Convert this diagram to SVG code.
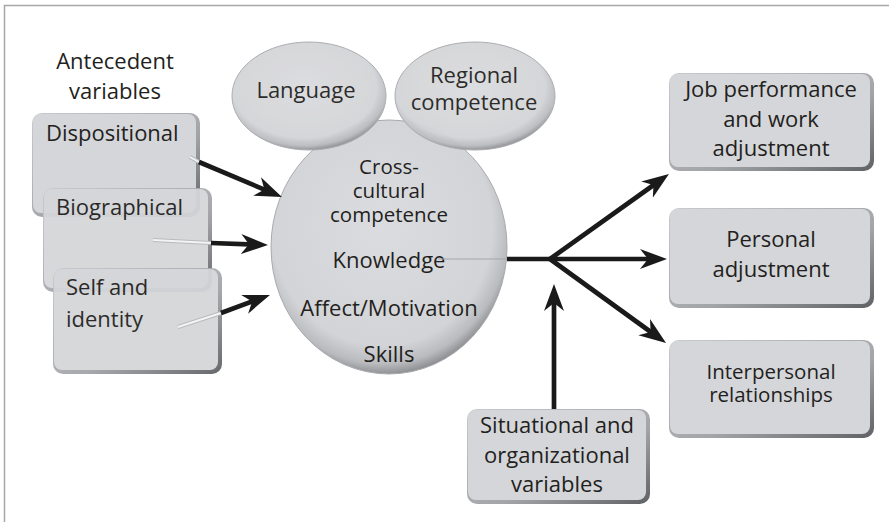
<svg xmlns="http://www.w3.org/2000/svg" width="889" height="522" viewBox="0 0 889 522">
<defs>
<style>
text{font-family:"Open Sans","Liberation Sans",sans-serif;font-size:22px;fill:#231f20;text-anchor:middle}
.tl{text-anchor:start}
.tight{font-size:20.5px}
.rim{fill:url(#rimG)}
.box{fill:#d5d6d9}
.ell{fill:url(#ellG);stroke:#a9aaad;stroke-width:1}
.conn{stroke:#1a1a1a;stroke-width:4.7;fill:none}
.arr{marker-end:url(#ah)}
.ghost{stroke:#b9babd;stroke-width:4;fill:none}
.ghost2{stroke:#f4f4f4;stroke-width:2;fill:none}
</style>
<linearGradient id="rimG" x1="0" y1="0" x2="1" y2="1">
<stop offset="0" stop-color="#c9cacd"/>
<stop offset="0.6" stop-color="#a3a4a8"/>
<stop offset="1" stop-color="#606165"/>
</linearGradient>
<radialGradient id="ellG" cx="0.47" cy="0.42" r="0.6">
<stop offset="0" stop-color="#dbdcdf"/>
<stop offset="0.78" stop-color="#d3d4d7"/>
<stop offset="0.9" stop-color="#babbbe"/>
<stop offset="1" stop-color="#7c7d81"/>
</radialGradient>
<marker id="ah" markerUnits="userSpaceOnUse" markerWidth="28" markerHeight="22" viewBox="0 0 28 22" refX="15" refY="11" orient="auto">
<path d="M0,1 L27,11 L0,21 L8,11 z" fill="#1a1a1a"/>
</marker>
</defs>
<rect width="889" height="522" fill="#ffffff"/>
<path d="M4.5,522 L4.5,5.5 L889,5.5" fill="none" stroke="#a6a6a8" stroke-width="1.5"/>

<g id="antecedent-label">
<text x="115" y="69">Antecedent</text>
<text x="115" y="99">variables</text>
</g>

<g id="dispositional">
<rect class="rim" x="32" y="113" width="168" height="104" rx="10"/>
<rect class="box" x="33" y="114" width="163" height="99" rx="8"/>
<text class="tl" x="46" y="141">Dispositional</text>
</g>
<g id="biographical" opacity="0.95">
<rect class="rim" x="43" y="188" width="169" height="104" rx="10"/>
<rect class="box" x="44" y="189" width="164" height="99" rx="8"/>
<text class="tl" x="56" y="215">Biographical</text>
</g>
<g id="self-identity" opacity="0.95">
<rect class="rim" x="53" y="268" width="169" height="106" rx="10"/>
<rect class="box" x="54" y="269" width="164" height="101" rx="8"/>
<text class="tl" x="66" y="295">Self and</text>
<text class="tl" x="66" y="327">identity</text>
</g>

<g id="cross-cultural">
<ellipse class="ell" cx="389" cy="247" rx="118" ry="127"/>
<text class="tight" x="389" y="174">Cross-</text>
<text class="tight" x="389" y="198">cultural</text>
<text class="tight" x="389" y="222">competence</text>
<text x="389" y="268">Knowledge</text>
<text x="389" y="316">Affect/Motivation</text>
<text x="389" y="362">Skills</text>
</g>
<g id="language" opacity="0.95">
<ellipse class="ell" cx="309" cy="96" rx="77" ry="54"/>
<text x="306" y="98">Language</text>
</g>
<g id="regional" opacity="0.95">
<ellipse class="ell" cx="475" cy="96" rx="80" ry="54"/>
<text x="474" y="83">Regional</text>
<text x="474" y="110">competence</text>
</g>

<g id="job-performance">
<rect class="rim" x="669" y="73" width="205" height="98" rx="10"/>
<rect class="box" x="670" y="74" width="200" height="93" rx="8"/>
<text x="771" y="97">Job performance</text>
<text x="771" y="127">and work</text>
<text x="771" y="156">adjustment</text>
</g>
<g id="personal-adjustment">
<rect class="rim" x="669" y="208" width="205" height="100" rx="10"/>
<rect class="box" x="670" y="209" width="200" height="95" rx="8"/>
<text x="771" y="247">Personal</text>
<text x="771" y="277">adjustment</text>
</g>
<g id="interpersonal">
<rect class="rim" x="669" y="340" width="205" height="98" rx="10"/>
<rect class="box" x="670" y="341" width="200" height="93" rx="8"/>
<text class="tight" x="771" y="379">Interpersonal</text>
<text class="tight" x="771" y="402">relationships</text>
</g>
<g id="situational">
<rect class="rim" x="467" y="409" width="183" height="95" rx="10"/>
<rect class="box" x="468" y="410" width="178" height="90" rx="8"/>
<text x="557" y="433">Situational and</text>
<text x="557" y="463">organizational</text>
<text x="557" y="492">variables</text>
</g>

<g id="connectors">
<line class="ghost" x1="190" y1="157" x2="199" y2="162"/>
<line class="ghost2" x1="190" y1="157" x2="199" y2="162"/>
<line class="ghost" x1="153" y1="240" x2="211" y2="243"/>
<line class="ghost2" x1="153" y1="240" x2="211" y2="243"/>
<line class="ghost" x1="178" y1="327" x2="221" y2="313"/>
<line class="ghost2" x1="178" y1="327" x2="221" y2="313"/>
<line x1="438" y1="259" x2="507" y2="259" stroke="#a5a6a9" stroke-width="1"/>
<line class="conn arr" x1="199" y1="162" x2="270.9" y2="192.3"/>
<line class="conn arr" x1="211" y1="243" x2="256" y2="244.6"/>
<line class="conn arr" x1="221" y1="313" x2="258.7" y2="299.1"/>
<line class="conn" x1="507" y1="259" x2="550" y2="259"/>
<line class="conn arr" x1="550" y1="259" x2="659.2" y2="181"/>
<line class="conn arr" x1="550" y1="259" x2="655" y2="259"/>
<line class="conn arr" x1="550" y1="259" x2="656.3" y2="336"/>
<line class="conn arr" x1="554" y1="409" x2="554" y2="296"/>
</g>
</svg>
